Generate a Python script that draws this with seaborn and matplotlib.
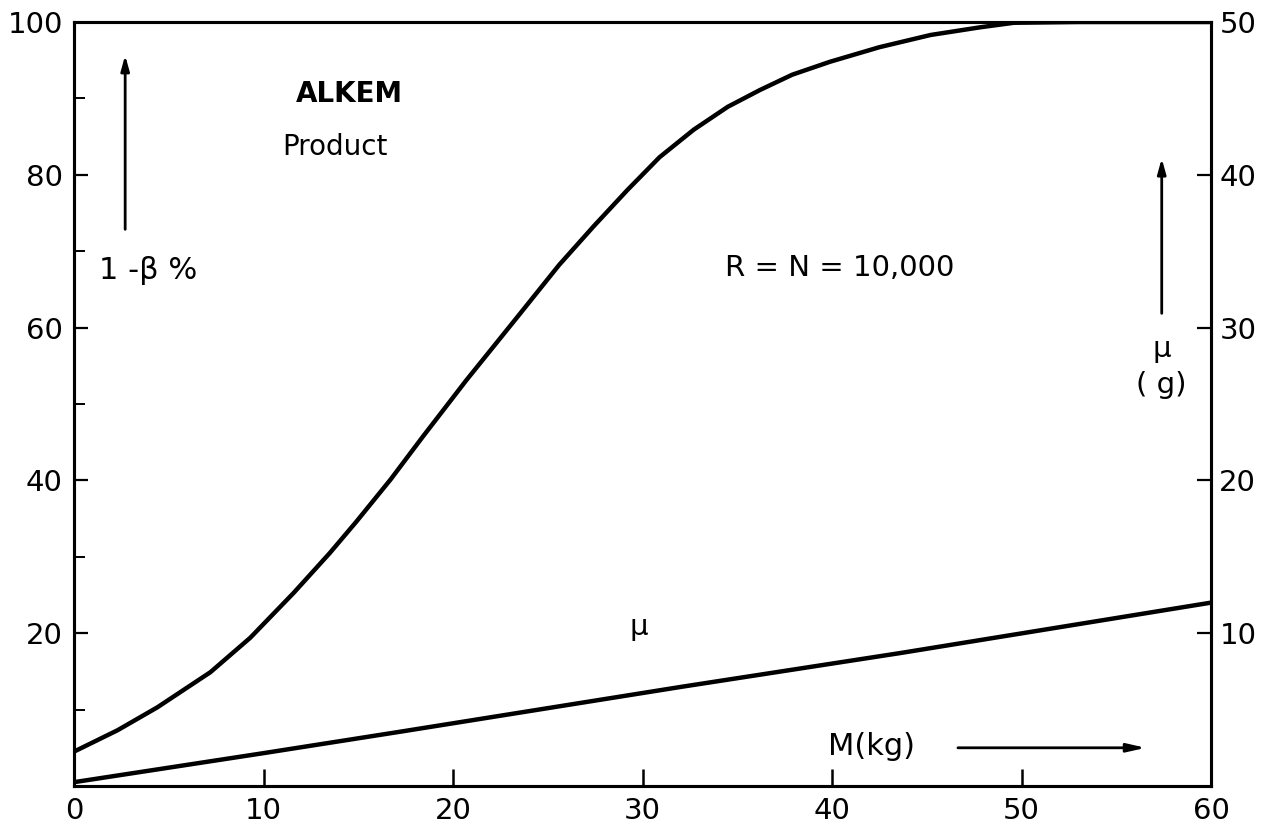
import numpy as np
import pandas as pd
import seaborn as sns
import matplotlib.pyplot as plt

# data
mass_kg = [0, 2.3, 4.4, 7.2, 9.3, 11.6, 13.5, 14.9, 16.7, 18.4, 20.7, 23.4, 25.6,
           27.4, 29.2, 30.9, 32.7, 34.5, 36.2, 37.9, 39.9, 42.5, 45.2, 47.8, 49.6,
           53, 60]
power_pct = [4.5, 7.3, 10.3, 14.9, 19.4, 25.3, 30.5, 34.6, 40.1, 45.7, 53.1, 61.4, 68.2,
             73.2, 78.0, 82.3, 85.9, 88.9, 91.1, 93.1, 94.8, 96.7, 98.3, 99.3, 99.9,
             100.0, 100.0]
mu_mass = [0, 10, 17.2, 32.1, 43.6, 60]
mu_g = [0.25, 2.15, 3.55, 6.5, 8.7, 12.0]

sns.set_style("white")
plt.rcParams['font.family'] = ['DejaVu Sans']
plt.rcParams['text.color'] = 'black'
plt.rcParams['xtick.color'] = 'black'
plt.rcParams['ytick.color'] = 'black'

fig = plt.figure(figsize=(12.63, 8.26), dpi=100)
ax = fig.add_axes([74 / 1263, 1 - 786 / 826, 1137 / 1263, 764 / 826])
ax2 = ax.twinx()

df1 = pd.DataFrame({"M": mass_kg, "P": power_pct})
df2 = pd.DataFrame({"M": mu_mass, "mu": mu_g})
sns.lineplot(data=df1, x="M", y="P", ax=ax, color="black", lw=3.2,
             solid_joinstyle="round")
sns.lineplot(data=df2, x="M", y="mu", ax=ax2, color="black", lw=3.2)

ax.set_xlim(0, 60)
ax.set_ylim(0, 100)
ax2.set_ylim(0, 50)
for a in (ax, ax2):
    a.set_xlabel("")
    a.set_ylabel("")
    for s in a.spines.values():
        s.set_linewidth(2.2)
        s.set_color("black")

ax.set_xticks(range(0, 61, 10))
ax.set_yticks(range(20, 101, 20))
ax.set_yticks(range(10, 100, 20), minor=True)
ax.tick_params(axis="x", which="major", bottom=True, direction="in", length=12, width=1.8,
               labelsize=21, pad=8, labelcolor="black")
ax.tick_params(axis="y", which="major", left=True, direction="in", length=10, width=1.6,
               labelsize=21, pad=8, labelcolor="black")
ax.tick_params(axis="y", which="minor", left=True, direction="in", length=8, width=1.4)
ax.tick_params(axis="x", which="minor", bottom=False)
ax2.set_yticks(range(10, 51, 10))
ax2.tick_params(axis="y", right=True, direction="in", length=10, width=1.6,
                labelsize=21, pad=6, labelcolor="black")
ax.xaxis.get_major_ticks()[0].tick1line.set_visible(False)
ax.xaxis.get_major_ticks()[-1].tick1line.set_visible(False)
ax.yaxis.get_major_ticks()[-1].tick1line.set_visible(False)
ax2.yaxis.get_major_ticks()[-1].tick2line.set_visible(False)

# annotations
arrow = dict(arrowstyle="-|>,head_length=0.9,head_width=0.25", color="black", lw=2)
ax.text(11.7, 90.6, "ALKEM", fontsize=20, fontweight="bold", ha="left", va="center")
ax.text(11.0, 83.6, "Product", fontsize=20, ha="left", va="center")
ax.text(1.3, 67.5, "1 -β %", fontsize=22, ha="left", va="center")
ax.annotate("", xy=(2.7, 96), xytext=(2.7, 72.5), arrowprops=arrow)
ax.text(40.4, 67.8, "R = N = 10,000", fontsize=21, ha="center", va="center")
ax.annotate("", xy=(57.4, 82.5), xytext=(57.4, 61.5), arrowprops=arrow)
ax.text(57.4, 57.2, "μ", fontsize=21, ha="center", va="center")
ax.text(57.4, 52.5, "( g)", fontsize=21, ha="center", va="center")
ax.text(29.8, 20.8, "μ", fontsize=21, ha="center", va="center")
ax.text(42.1, 5.2, "M(kg)", fontsize=22, ha="center", va="center")
ax.annotate("", xy=(56.7, 5.0), xytext=(46.5, 5.0),
            arrowprops=dict(arrowstyle="-|>,head_length=1.1,head_width=0.25",
                            color="black", lw=2))

fig.savefig("out.png", dpi=100)
